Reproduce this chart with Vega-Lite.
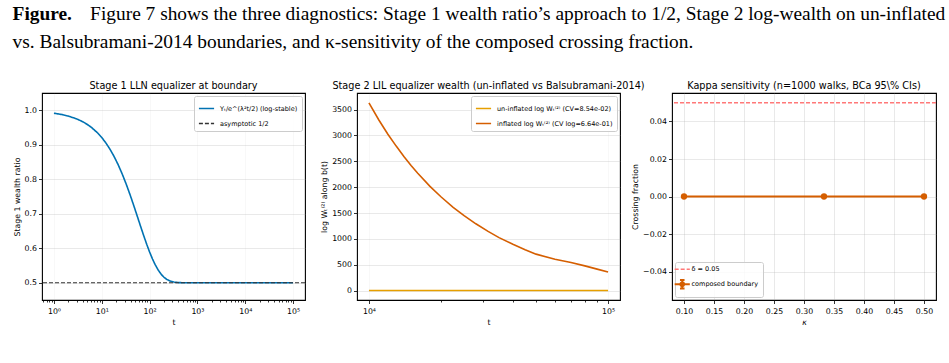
{
  "$schema": "https://vega.github.io/schema/vega-lite/v6.json",
  "padding": {"left": 12, "top": 4, "right": 10, "bottom": 4},
  "title": {
    "text": "Figure.",
    "subtitle": [
      "\u200b\u00a0\u00a0\u00a0\u00a0\u00a0\u00a0\u00a0\u00a0\u00a0\u00a0\u00a0\u00a0\u00a0\u00a0\u00a0\u00a0Figure 7 shows the three diagnostics: Stage 1 wealth ratio’s approach to 1/2, Stage 2 log-wealth on un-inflated",
      "vs. Balsubramani-2014 boundaries, and κ-sensitivity of the composed crossing fraction."
    ],
    "anchor": "start",
    "frame": "bounds",
    "font": "Liberation Serif",
    "fontSize": 19.4,
    "fontWeight": "bold",
    "color": "#000",
    "subtitleFont": "Liberation Serif",
    "subtitleFontSize": 19.4,
    "subtitleFontWeight": "normal",
    "subtitleColor": "#000",
    "subtitleLineHeight": 28,
    "subtitlePadding": -19.4,
    "offset": 28
  },
  "bounds": "flush",
  "spacing": 52,
  "resolve": {
    "scale": {"color": "independent", "strokeDash": "independent"},
    "legend": {"color": "independent", "strokeDash": "independent"}
  },
  "hconcat": [
    {
      "width": 263,
      "height": 207,
      "title": "Stage 1 LLN equalizer at boundary",
      "layer": [
        {
          "data": {
            "values": [
              {"t": 1, "ratio": 0.99146}, {"t": 1.5, "ratio": 0.98724}, {"t": 2, "ratio": 0.98306},
              {"t": 3, "ratio": 0.9748}, {"t": 4, "ratio": 0.96668}, {"t": 5, "ratio": 0.9587},
              {"t": 6, "ratio": 0.95086}, {"t": 8, "ratio": 0.93558}, {"t": 10, "ratio": 0.92082},
              {"t": 12, "ratio": 0.90654}, {"t": 15, "ratio": 0.88605}, {"t": 18, "ratio": 0.86659},
              {"t": 22, "ratio": 0.84215}, {"t": 27, "ratio": 0.8139}, {"t": 33, "ratio": 0.78306},
              {"t": 40, "ratio": 0.75089}, {"t": 47, "ratio": 0.72236}, {"t": 55, "ratio": 0.69371},
              {"t": 65, "ratio": 0.66303}, {"t": 75, "ratio": 0.63723}, {"t": 87, "ratio": 0.61157},
              {"t": 100, "ratio": 0.58917}, {"t": 115, "ratio": 0.56884}, {"t": 130, "ratio": 0.55315},
              {"t": 150, "ratio": 0.53765}, {"t": 175, "ratio": 0.52447}, {"t": 200, "ratio": 0.5159},
              {"t": 230, "ratio": 0.50948}, {"t": 270, "ratio": 0.50476}, {"t": 320, "ratio": 0.50201},
              {"t": 400, "ratio": 0.50051}, {"t": 500, "ratio": 0.50009}, {"t": 700, "ratio": 0.5},
              {"t": 1000, "ratio": 0.5}, {"t": 3000, "ratio": 0.5}, {"t": 10000, "ratio": 0.5},
              {"t": 30000, "ratio": 0.5}, {"t": 100000, "ratio": 0.5}
            ]
          },
          "mark": {"type": "line", "strokeWidth": 1.6},
          "encoding": {
            "x": {
              "field": "t", "type": "quantitative", "title": "t",
              "scale": {"type": "log", "domain": [0.562, 177828], "nice": false},
              "axis": {
                "values": [0.6, 0.7, 0.8, 0.9, 1, 2, 3, 4, 5, 6, 7, 8, 9, 10, 20, 30, 40, 50, 60, 70, 80, 90, 100, 200, 300, 400, 500, 600, 700, 800, 900, 1000, 2000, 3000, 4000, 5000, 6000, 7000, 8000, 9000, 10000, 20000, 30000, 40000, 50000, 60000, 70000, 80000, 90000, 100000],
                "labelExpr": "abs(log(datum.value)/LN10 - round(log(datum.value)/LN10)) < 0.001 ? '10' + ['⁰','¹','²','³','⁴','⁵'][round(log(datum.value)/LN10)] : ''",
                "tickSize": {"condition": {"test": "abs(log(datum.value)/LN10 - round(log(datum.value)/LN10)) < 0.001", "value": 3.5}, "value": 2},
                "gridOpacity": {"condition": {"test": "abs(log(datum.value)/LN10 - round(log(datum.value)/LN10)) < 0.001", "value": 0.35}, "value": 0}
              }
            },
            "y": {
              "field": "ratio", "type": "quantitative", "title": "Stage 1 wealth ratio",
              "scale": {"domain": [0.45, 1.05], "nice": false, "zero": false},
              "axis": {"values": [0.5, 0.6, 0.7, 0.8, 0.9, 1.0], "format": ".1f"}
            },
            "color": {
              "datum": "Yₜ/e^(λ²t/2) (log-stable)",
              "scale": {"domain": ["Yₜ/e^(λ²t/2) (log-stable)", "asymptotic 1/2"], "range": ["#0072B2", "#333333"]},
              "legend": {"title": null, "orient": "top-right", "offset": 3}
            },
            "strokeDash": {
              "datum": "Yₜ/e^(λ²t/2) (log-stable)",
              "scale": {"domain": ["Yₜ/e^(λ²t/2) (log-stable)", "asymptotic 1/2"], "range": [[1, 0], [4, 2]]},
              "legend": {"title": null, "orient": "top-right", "offset": 3}
            }
          }
        },
        {
          "data": {"values": [{"ratio": 0.5}]},
          "mark": {"type": "rule", "strokeWidth": 1},
          "encoding": {
            "y": {
              "field": "ratio", "type": "quantitative", "title": "Stage 1 wealth ratio",
              "scale": {"domain": [0.45, 1.05], "nice": false, "zero": false},
              "axis": {"values": [0.5, 0.6, 0.7, 0.8, 0.9, 1.0], "format": ".1f"}
            },
            "color": {"datum": "asymptotic 1/2"},
            "strokeDash": {"datum": "asymptotic 1/2"}
          }
        }
      ]
    },
    {
      "width": 263,
      "height": 207,
      "title": "Stage 2 LIL equalizer wealth (un-inflated vs Balsubramani-2014)",
      "data": {
        "values": [
          {"series": "un-inflated", "t": 10000, "w": 3}, {"series": "un-inflated", "t": 20000, "w": 3},
          {"series": "un-inflated", "t": 40000, "w": 3}, {"series": "un-inflated", "t": 70000, "w": 3},
          {"series": "un-inflated", "t": 100000, "w": 3},
          {"series": "inflated", "t": 10000, "w": 3630}, {"series": "inflated", "t": 11000, "w": 3300},
          {"series": "inflated", "t": 12000, "w": 3025}, {"series": "inflated", "t": 13000, "w": 2795},
          {"series": "inflated", "t": 14000, "w": 2595}, {"series": "inflated", "t": 15000, "w": 2420},
          {"series": "inflated", "t": 16000, "w": 2270}, {"series": "inflated", "t": 18000, "w": 2015},
          {"series": "inflated", "t": 20000, "w": 1815}, {"series": "inflated", "t": 22500, "w": 1610},
          {"series": "inflated", "t": 25000, "w": 1450}, {"series": "inflated", "t": 28000, "w": 1292},
          {"series": "inflated", "t": 31500, "w": 1145}, {"series": "inflated", "t": 35000, "w": 1025},
          {"series": "inflated", "t": 40000, "w": 895}, {"series": "inflated", "t": 45000, "w": 790},
          {"series": "inflated", "t": 50000, "w": 705}, {"series": "inflated", "t": 60000, "w": 605},
          {"series": "inflated", "t": 70000, "w": 545}, {"series": "inflated", "t": 80000, "w": 478},
          {"series": "inflated", "t": 90000, "w": 415}, {"series": "inflated", "t": 100000, "w": 360}
        ]
      },
      "mark": {"type": "line", "strokeWidth": 1.6},
      "encoding": {
        "x": {
          "field": "t", "type": "quantitative", "title": "t",
          "scale": {"type": "log", "domain": [8913, 112202], "nice": false},
          "axis": {
            "values": [10000, 20000, 30000, 40000, 50000, 60000, 70000, 80000, 90000, 100000],
            "labelExpr": "abs(log(datum.value)/LN10 - round(log(datum.value)/LN10)) < 0.001 ? '10' + ['⁰','¹','²','³','⁴','⁵'][round(log(datum.value)/LN10)] : ''",
            "tickSize": {"condition": {"test": "abs(log(datum.value)/LN10 - round(log(datum.value)/LN10)) < 0.001", "value": 3.5}, "value": 2},
            "gridOpacity": {"condition": {"test": "abs(log(datum.value)/LN10 - round(log(datum.value)/LN10)) < 0.001", "value": 0.35}, "value": 0}
          }
        },
        "y": {
          "field": "w", "type": "quantitative", "title": "log Wₜ⁽²⁾ along b(t)",
          "scale": {"domain": [-182, 3822], "nice": false, "zero": false},
          "axis": {"values": [0, 500, 1000, 1500, 2000, 2500, 3000, 3500], "format": "d"}
        },
        "color": {
          "field": "series", "type": "nominal",
          "scale": {"domain": ["un-inflated", "inflated"], "range": ["#E69F00", "#D55E00"]},
          "legend": {
            "title": null, "orient": "top-right", "offset": 3,
            "labelExpr": "datum.label === 'inflated' ? 'inflated log Wₜ⁽²⁾ (CV log=6.64e-01)' : 'un-inflated log Wₜ⁽²⁾ (CV=8.54e-02)'"
          }
        }
      }
    },
    {
      "width": 264,
      "height": 207,
      "title": "Kappa sensitivity (n=1000 walks, BCa 95\\% CIs)",
      "layer": [
        {
          "data": {"values": [{"kappa": 0.1, "frac": 0}, {"kappa": 0.3333, "frac": 0}, {"kappa": 0.5, "frac": 0}]},
          "mark": {"type": "line", "strokeWidth": 2, "point": {"filled": true, "size": 40}},
          "encoding": {
            "x": {
              "field": "kappa", "type": "quantitative", "title": "κ",
              "scale": {"domain": [0.08, 0.52], "nice": false, "zero": false},
              "axis": {"values": [0.1, 0.15, 0.2, 0.25, 0.3, 0.35, 0.4, 0.45, 0.5], "format": ".2f", "titleFontStyle": "italic"}
            },
            "y": {
              "field": "frac", "type": "quantitative", "title": "Crossing fraction",
              "scale": {"domain": [-0.0552, 0.0552], "nice": false, "zero": false},
              "axis": {"values": [-0.04, -0.02, 0, 0.02, 0.04], "format": ".2f"}
            },
            "color": {
              "datum": "composed boundary",
              "scale": {"domain": ["δ = 0.05", "composed boundary"], "range": ["#ff7878", "#D55E00"]},
              "legend": {
                "title": null, "orient": "bottom-left", "offset": 3, "labelOffset": 6,
                "encode": {
                  "symbols": {
                    "update": {
                      "shape": {"signal": "datum.value === 'composed boundary' ? 'M-1,0H1M0,-0.55V0.55M-0.3,-0.55H0.3M-0.3,0.55H0.3M-0.25,0A0.25,0.25 0 1,1 0.25,0A0.25,0.25 0 1,1 -0.25,0Z' : 'stroke'"},
                      "fill": {"signal": "datum.value === 'composed boundary' ? '#D55E00' : 'transparent'"},
                      "strokeDash": {"signal": "datum.value === 'composed boundary' ? [1, 0] : [4, 2]"},
                      "strokeWidth": {"signal": "datum.value === 'composed boundary' ? 2 : 1.3"}
                    }
                  }
                }
              }
            }
          }
        },
        {
          "data": {"values": [{"frac": 0.05}]},
          "mark": {"type": "rule", "strokeWidth": 1.3, "strokeDash": [4, 2]},
          "encoding": {
            "y": {
              "field": "frac", "type": "quantitative", "title": "Crossing fraction",
              "scale": {"domain": [-0.0552, 0.0552], "nice": false, "zero": false},
              "axis": {"values": [-0.04, -0.02, 0, 0.02, 0.04], "format": ".2f"}
            },
            "color": {"datum": "δ = 0.05"}
          }
        }
      ]
    }
  ],
  "config": {
    "font": "DejaVu Sans",
    "view": {"stroke": "#000", "strokeWidth": 1.1},
    "axis": {
      "domain": false,
      "tickColor": "#000",
      "tickSize": 3.5,
      "tickWidth": 0.8,
      "labelColor": "#000",
      "labelFont": "DejaVu Sans",
      "labelFontSize": 7.8,
      "labelPadding": 2,
      "labelFlush": false,
      "labelOverlap": false,
      "titleFont": "DejaVu Sans",
      "titleFontSize": 7.8,
      "titleFontWeight": "normal",
      "titleColor": "#000",
      "titlePadding": 3,
      "grid": true,
      "gridColor": "#b0b0b0",
      "gridOpacity": 0.35,
      "gridWidth": 0.8
    },
    "axisX": {"labelPadding": 4, "titlePadding": 3},
    "title": {"font": "DejaVu Sans", "fontSize": 9.7, "fontWeight": "normal", "color": "#000", "offset": 2},
    "legend": {
      "labelFont": "DejaVu Sans",
      "labelFontSize": 6.5,
      "labelColor": "#000",
      "fillColor": "rgba(255,255,255,0.8)",
      "strokeColor": "#cccccc",
      "cornerRadius": 2,
      "padding": 4,
      "rowPadding": 3,
      "symbolType": "stroke",
      "symbolSize": 230,
      "symbolStrokeWidth": 1.5,
      "labelOffset": 5
    }
  }
}
